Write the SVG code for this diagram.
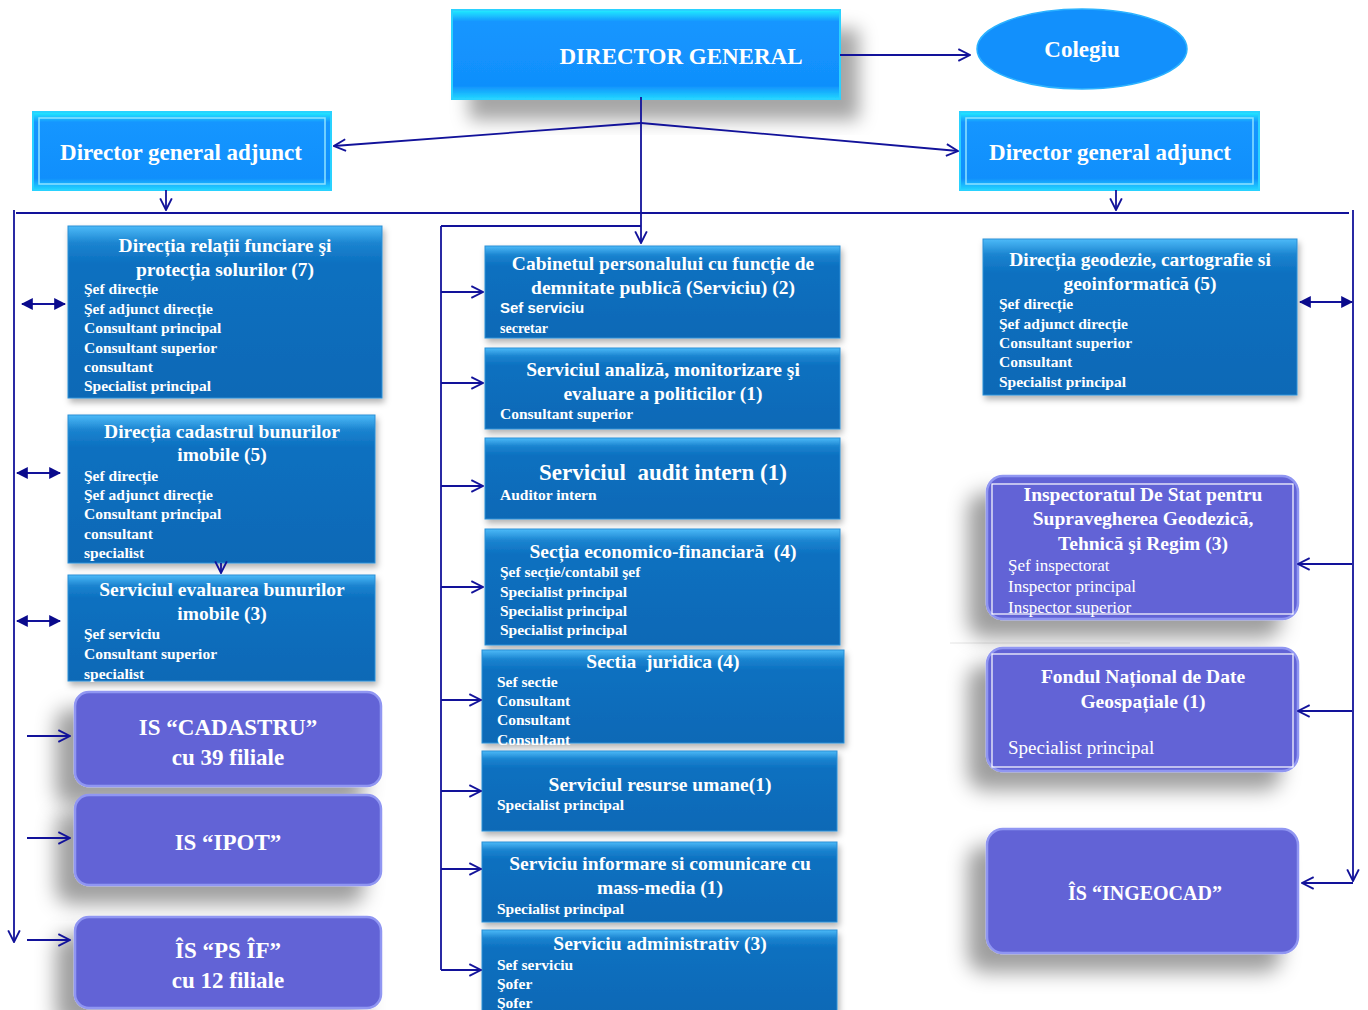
<svg xmlns="http://www.w3.org/2000/svg" width="1368" height="1010" viewBox="0 0 1368 1010">
<defs>
  <linearGradient id="dgGrad" x1="0" y1="0" x2="0" y2="1">
    <stop offset="0" stop-color="#22eeff"/>
    <stop offset="0.13" stop-color="#1596ff"/>
    <stop offset="0.85" stop-color="#108ffc"/>
    <stop offset="1" stop-color="#22d6ff"/>
  </linearGradient>
  <linearGradient id="deptGrad" x1="0" y1="0" x2="0" y2="1">
    <stop offset="0" stop-color="#4cbaf8"/>
    <stop offset="0.1" stop-color="#1b84d0"/>
    <stop offset="0.22" stop-color="#0c70c0"/>
    <stop offset="1" stop-color="#0a69b6"/>
  </linearGradient>
  <filter id="shDG" x="-20%" y="-20%" width="150%" height="160%">
    <feDropShadow dx="18" dy="20" stdDeviation="9" flood-color="#000" flood-opacity="0.35"/>
  </filter>
  <filter id="shDept" x="-10%" y="-10%" width="120%" height="130%">
    <feDropShadow dx="2" dy="4" stdDeviation="3" flood-color="#000" flood-opacity="0.3"/>
  </filter>
  <filter id="shPur" x="-30%" y="-30%" width="160%" height="170%">
    <feDropShadow dx="-18" dy="18" stdDeviation="10" flood-color="#000" flood-opacity="0.38"/>
  </filter>
  <marker id="open" viewBox="0 0 12 12" refX="11" refY="6" markerWidth="14" markerHeight="14" markerUnits="userSpaceOnUse" orient="auto">
    <path d="M1,1 L11,6 L1,11" fill="none" stroke="#12129a" stroke-width="1.6"/>
  </marker>
  <marker id="tri" viewBox="0 0 10 10" refX="9" refY="5" markerWidth="12" markerHeight="12" markerUnits="userSpaceOnUse" orient="auto-start-reverse">
    <path d="M0,0 L10,5 L0,10 Z" fill="#0a0a8c"/>
  </marker>
  <style>
    .dg { fill: url(#dgGrad); stroke: #29d2ff; stroke-width: 2; }
    .dept { fill: url(#deptGrad); stroke: #2a8fd6; stroke-width: 1; filter: url(#shDept); }
    .pur { fill: #6264d6; stroke: #9096f2; stroke-width: 2.5; filter: url(#shPur); }
    .inner { fill: none; stroke: #ffffff; stroke-width: 1.2; }
    .innerB { fill: none; stroke: #8fe2ff; stroke-width: 1.5; }
    text { fill: #ffffff; font-family: "Liberation Serif", "Times New Roman", serif; }
    .big { font-size: 23px; font-weight: bold; }
    .ttl { font-size: 19.5px; font-weight: bold; text-anchor: middle; }
    .itm { font-size: 15.5px; font-weight: bold; }
    .reg { font-size: 17px; }
    .sans { font-family: "Liberation Sans", Arial, sans-serif; font-size: 15px; font-weight: bold; }
    .c { text-anchor: middle; }
    .ln { fill: none; stroke: #12129a; stroke-width: 1.8; }
  </style>
</defs>
<rect x="0" y="0" width="1368" height="1010" fill="#ffffff"/>
<line x1="950" y1="643" x2="1130" y2="643" stroke="#e4e4e4" stroke-width="1"/>

<g id="director-general">
  <rect x="452" y="10" width="388" height="89" class="dg" filter="url(#shDG)"/>
  <text x="681" y="64" class="big c">DIRECTOR GENERAL</text>
</g>
<g id="colegiu">
  <ellipse cx="1082" cy="49" rx="105" ry="40" fill="#1290fc" stroke="#2bb2ff" stroke-width="1.5"/>
  <text x="1082" y="57" class="big c">Colegiu</text>
</g>
<g id="dga-left">
  <rect x="33" y="112" width="298" height="78" class="dg"/>
  <rect x="39" y="118" width="286" height="66" class="innerB"/>
  <text x="181" y="160" class="big c">Director general adjunct</text>
</g>
<g id="dga-right">
  <rect x="960" y="112" width="299" height="78" class="dg"/>
  <rect x="966" y="118" width="287" height="66" class="innerB"/>
  <text x="1110" y="160" class="big c">Director general adjunct</text>
</g>

<g id="dir-relatii-funciare">
  <rect x="68" y="226" width="314" height="172" class="dept"/>
  <text x="225" y="252" class="ttl">Direcția relații funciare şi</text>
  <text x="225" y="276" class="ttl">protecția solurilor (7)</text>
  <text x="84" y="294" class="itm">Şef direcție</text>
  <text x="84" y="314" class="itm">Şef adjunct direcție</text>
  <text x="84" y="333" class="itm">Consultant principal</text>
  <text x="84" y="353" class="itm">Consultant superior</text>
  <text x="84" y="372" class="itm">consultant</text>
  <text x="84" y="391" class="itm">Specialist principal</text>
</g>
<g id="dir-cadastru">
  <rect x="68" y="415" width="307" height="148" class="dept"/>
  <text x="222" y="438" class="ttl">Direcția cadastrul bunurilor</text>
  <text x="222" y="461" class="ttl">imobile (5)</text>
  <text x="84" y="481" class="itm">Şef direcție</text>
  <text x="84" y="500" class="itm">Şef adjunct direcție</text>
  <text x="84" y="519" class="itm">Consultant principal</text>
  <text x="84" y="539" class="itm">consultant</text>
  <text x="84" y="558" class="itm">specialist</text>
</g>
<g id="serv-evaluarea">
  <rect x="68" y="575" width="307" height="106" class="dept"/>
  <text x="222" y="596" class="ttl">Serviciul evaluarea bunurilor</text>
  <text x="222" y="620" class="ttl">imobile (3)</text>
  <text x="84" y="639" class="itm">Şef serviciu</text>
  <text x="84" y="659" class="itm">Consultant superior</text>
  <text x="84" y="679" class="itm">specialist</text>
</g>
<g id="is-cadastru">
  <rect x="75" y="692" width="306" height="94" rx="14" class="pur"/>
  <text x="228" y="735" class="big c">IS “CADASTRU”</text>
  <text x="228" y="765" class="big c">cu 39 filiale</text>
</g>
<g id="is-ipot">
  <rect x="75" y="795" width="306" height="90" rx="14" class="pur"/>
  <text x="228" y="850" class="big c">IS “IPOT”</text>
</g>
<g id="is-psif">
  <rect x="75" y="917" width="306" height="91" rx="14" class="pur"/>
  <text x="228" y="958" class="big c">ÎS “PS ÎF”</text>
  <text x="228" y="988" class="big c">cu 12 filiale</text>
</g>

<g id="cabinetul">
  <rect x="485" y="246" width="355" height="92" class="dept"/>
  <text x="663" y="270" class="ttl">Cabinetul personalului cu funcție de</text>
  <text x="663" y="294" class="ttl">demnitate publică (Serviciu) (2)</text>
  <text x="500" y="313" class="sans">Sef serviciu</text>
  <text x="500" y="333" class="itm" style="font-size:14px">secretar</text>
</g>
<g id="serv-analiza">
  <rect x="485" y="348" width="355" height="81" class="dept"/>
  <text x="663" y="376" class="ttl">Serviciul analiză, monitorizare şi</text>
  <text x="663" y="400" class="ttl">evaluare a politicilor (1)</text>
  <text x="500" y="419" class="itm">Consultant superior</text>
</g>
<g id="serv-audit">
  <rect x="485" y="438" width="355" height="81" class="dept"/>
  <text x="663" y="480" class="big c" xml:space="preserve">Serviciul  audit intern (1)</text>
  <text x="500" y="500" class="itm">Auditor intern</text>
</g>
<g id="sectia-ec-fin">
  <rect x="485" y="529" width="355" height="116" class="dept"/>
  <text x="663" y="558" class="ttl" xml:space="preserve">Secția economico-financiară  (4)</text>
  <text x="500" y="577" class="itm">Şef secție/contabil şef</text>
  <text x="500" y="597" class="itm">Specialist principal</text>
  <text x="500" y="616" class="itm">Specialist principal</text>
  <text x="500" y="635" class="itm">Specialist principal</text>
</g>
<g id="sectia-juridica">
  <rect x="482" y="650" width="362" height="93" class="dept"/>
  <text x="663" y="668" class="ttl" xml:space="preserve">Sectia  juridica (4)</text>
  <text x="497" y="687" class="itm">Sef sectie</text>
  <text x="497" y="706" class="itm">Consultant</text>
  <text x="497" y="725" class="itm">Consultant</text>
  <text x="497" y="745" class="itm">Consultant</text>
</g>
<g id="serv-resurse">
  <rect x="482" y="751" width="355" height="80" class="dept"/>
  <text x="660" y="791" class="ttl">Serviciul resurse umane(1)</text>
  <text x="497" y="810" class="itm">Specialist principal</text>
</g>
<g id="serv-informare">
  <rect x="482" y="842" width="355" height="80" class="dept"/>
  <text x="660" y="870" class="ttl">Serviciu informare si comunicare cu</text>
  <text x="660" y="894" class="ttl">mass-media (1)</text>
  <text x="497" y="914" class="itm">Specialist principal</text>
</g>
<g id="serv-administrativ">
  <rect x="482" y="930" width="355" height="82" class="dept"/>
  <text x="660" y="950" class="ttl">Serviciu administrativ (3)</text>
  <text x="497" y="970" class="itm">Sef serviciu</text>
  <text x="497" y="989" class="itm">Şofer</text>
  <text x="497" y="1008" class="itm">Şofer</text>
</g>

<g id="dir-geodezie">
  <rect x="983" y="239" width="314" height="156" class="dept"/>
  <text x="1140" y="266" class="ttl">Direcția geodezie, cartografie si</text>
  <text x="1140" y="290" class="ttl">geoinformatică (5)</text>
  <text x="999" y="309" class="itm">Şef direcție</text>
  <text x="999" y="329" class="itm">Şef adjunct direcție</text>
  <text x="999" y="348" class="itm">Consultant superior</text>
  <text x="999" y="367" class="itm">Consultant</text>
  <text x="999" y="387" class="itm">Specialist principal</text>
</g>
<g id="inspectoratul">
  <rect x="987" y="476" width="311" height="143" rx="16" class="pur"/>
  <rect x="992" y="484" width="301" height="130" class="inner"/>
  <text x="1143" y="501" class="ttl">Inspectoratul De Stat pentru</text>
  <text x="1143" y="525" class="ttl">Supravegherea Geodezică,</text>
  <text x="1143" y="550" class="ttl">Tehnică şi Regim (3)</text>
  <text x="1008" y="571" class="reg">Şef inspectorat</text>
  <text x="1008" y="592" class="reg">Inspector principal</text>
  <text x="1008" y="613" class="reg">Inspector superior</text>
</g>
<g id="fondul">
  <rect x="987" y="648" width="311" height="123" rx="16" class="pur"/>
  <rect x="992" y="654" width="301" height="113" class="inner"/>
  <text x="1143" y="683" class="ttl">Fondul Național de Date</text>
  <text x="1143" y="708" class="ttl">Geospațiale (1)</text>
  <text x="1008" y="754" class="reg" style="font-size:19px">Specialist principal</text>
</g>
<g id="ingeocad">
  <rect x="987" y="829" width="311" height="124" rx="16" class="pur"/>
  <text x="1145" y="900" class="ttl" style="font-size:20px">ÎS “INGEOCAD”</text>
</g>

<g id="connectors">
  <path class="ln" d="M840,55 H970" marker-end="url(#open)"/>
  <path class="ln" d="M641,97 V243" marker-end="url(#open)"/>
  <path class="ln" d="M641,123 L334,146" marker-end="url(#open)"/>
  <path class="ln" d="M641,123 L958,151" marker-end="url(#open)"/>
  <path class="ln" d="M166,190 V210" marker-end="url(#open)"/>
  <path class="ln" d="M1116,190 V210" marker-end="url(#open)"/>
  <path class="ln" d="M16,213 H1349"/>
  <path class="ln" d="M14,210 V942" marker-end="url(#open)"/>
  <path class="ln" d="M1353,210 V881" marker-end="url(#open)"/>
  <path class="ln" d="M22,304 H65" marker-start="url(#tri)" marker-end="url(#tri)"/>
  <path class="ln" d="M17,473 H60" marker-start="url(#tri)" marker-end="url(#tri)"/>
  <path class="ln" d="M17,621 H60" marker-start="url(#tri)" marker-end="url(#tri)"/>
  <path class="ln" d="M221,563 V573" marker-end="url(#open)"/>
  <path class="ln" d="M27,736 H70" marker-end="url(#open)"/>
  <path class="ln" d="M27,838 H70" marker-end="url(#open)"/>
  <path class="ln" d="M27,940 H70" marker-end="url(#open)"/>
  <path class="ln" d="M441,226 H641"/>
  <path class="ln" d="M441,226 V970"/>
  <path class="ln" d="M441,292 H483" marker-end="url(#open)"/>
  <path class="ln" d="M441,383 H483" marker-end="url(#open)"/>
  <path class="ln" d="M441,486 H483" marker-end="url(#open)"/>
  <path class="ln" d="M441,587 H483" marker-end="url(#open)"/>
  <path class="ln" d="M441,700 H481" marker-end="url(#open)"/>
  <path class="ln" d="M441,791 H481" marker-end="url(#open)"/>
  <path class="ln" d="M441,869 H481" marker-end="url(#open)"/>
  <path class="ln" d="M441,970 H481" marker-end="url(#open)"/>
  <path class="ln" d="M1300,302 H1352" marker-start="url(#tri)" marker-end="url(#tri)"/>
  <path class="ln" d="M1352,564 H1298" marker-end="url(#open)"/>
  <path class="ln" d="M1352,711 H1298" marker-end="url(#open)"/>
  <path class="ln" d="M1353,883 H1302" marker-end="url(#open)"/>
</g>
</svg>
